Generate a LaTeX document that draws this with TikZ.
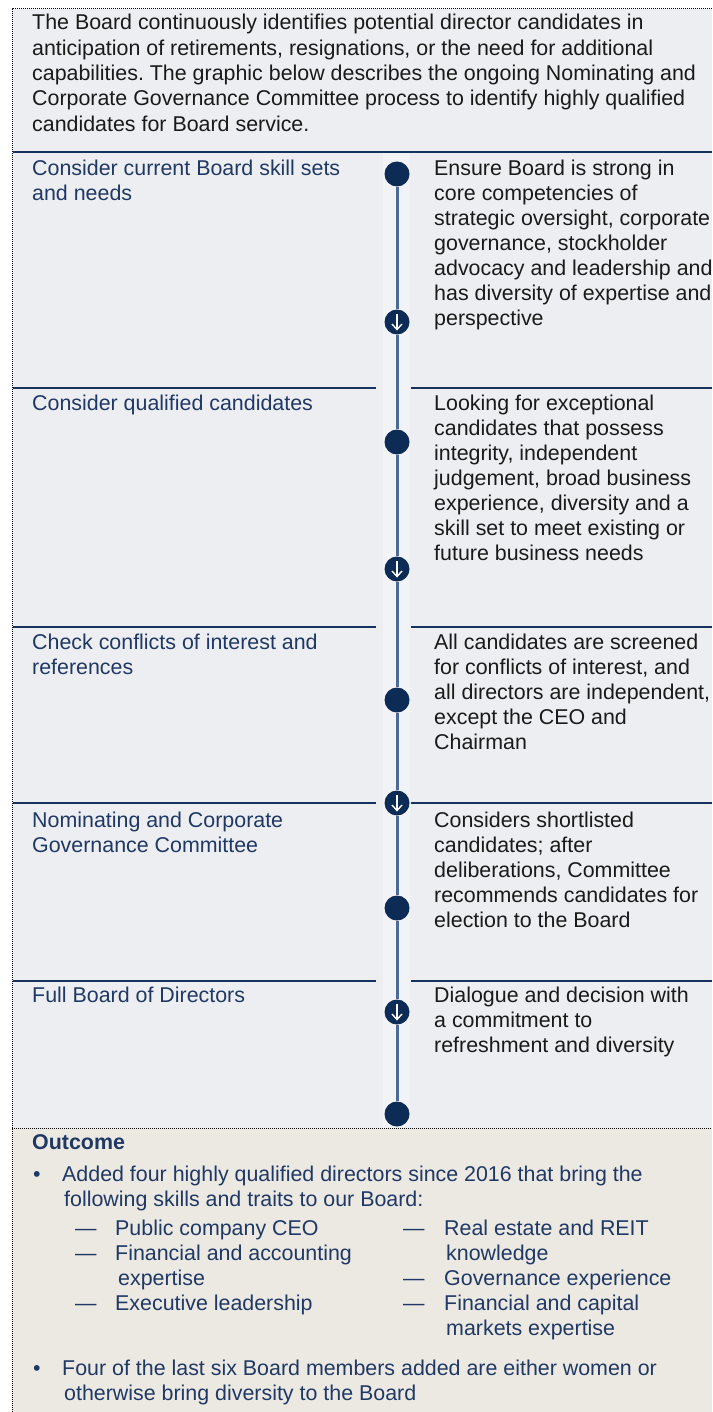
\documentclass[tikz,border=0pt]{standalone}
\usepackage{fontspec}
\setmainfont{Liberation Sans}
\frenchspacing
\definecolor{panel}{HTML}{EDEEF2}
\definecolor{band}{HTML}{F2F3F6}
\definecolor{sand}{HTML}{ECE9E3}
\definecolor{navy}{HTML}{1F3864}
\definecolor{ink}{HTML}{1A1A1A}
\definecolor{dotblue}{HTML}{0C2B55}
\definecolor{sepblue}{HTML}{17335F}
\definecolor{railblue}{HTML}{4C6C97}
\newcommand\boxfont{\fontsize{21.4}{25}\selectfont}
\newcommand\parafont{\fontsize{21.4}{25.4}\selectfont}
\begin{document}
\begin{tikzpicture}[x=1pt, y=-1pt,
    lbl/.style={anchor=north west, inner sep=0pt, align=left, text=navy, font=\boxfont},
    desc/.style={lbl, text=ink},
    dot/.style={circle, fill=dotblue, inner sep=0pt, minimum size=25pt},
    arrowdot/.style={circle, fill=dotblue, inner sep=0pt, minimum size=25pt,
      path picture={
        \draw[white, line width=1.4pt]
          ([yshift=8pt]path picture bounding box.center) --
          ([yshift=-7.5pt]path picture bounding box.center);
        \draw[white, line width=1.4pt, line join=miter]
          ([xshift=-5pt, yshift=-2pt]path picture bounding box.center) --
          ([yshift=-7.5pt]path picture bounding box.center) --
          ([xshift=5pt, yshift=-2pt]path picture bounding box.center);
      }},
    sep/.style={draw=sepblue, line width=2.5pt},
    rail/.style={draw=railblue, line width=3pt},
    border/.style={densely dotted, line width=1pt}]
  \useasboundingbox (0,0) rectangle (712,1412);
  % panels
  \fill[white] (0,0) rectangle (712,1412);
  \fill[panel] (12,9) rectangle (712,1128);
  \fill[band] (383,153) rectangle (410,1127);
  \fill[sand] (12,1128) rectangle (712,1412);
  \draw[border] (12,1412) -- (12,9) -- (712,9);
  \draw[border] (12,1128) -- (712,1128);
  % separators
  \draw[sep] (13,152) -- (712,152);
  \foreach \y in {388,627,803,981}{
    \draw[sep] (13,\y) -- (376,\y);
    \draw[sep] (411,\y) -- (712,\y);
  }
  % intro
  \node[desc, font=\parafont] (intro) at (32,11.7) {\strut The Board continuously identifies potential director candidates in\\
    anticipation of retirements, resignations, or the need for additional\\
    capabilities. The graphic below describes the ongoing Nominating and\\
    Corporate Governance Committee process to identify highly qualified\\
    candidates for Board service.};
  % steps
  \node[lbl] (l1) at (32,157.5) {\strut Consider current Board skill sets\\and needs};
  \node[desc] (r1) at (434,157.5) {\strut Ensure Board is strong in\\core competencies of\\strategic oversight, corporate\\governance, stockholder\\advocacy and leadership and\\has diversity of expertise and\\perspective};
  \node[lbl] (l2) at (32,392.5) {\strut Consider qualified candidates};
  \node[desc] (r2) at (434,392.5) {\strut Looking for exceptional\\candidates that possess\\integrity, independent\\judgement, broad business\\experience, diversity and a\\skill set to meet existing or\\future business needs};
  \node[lbl] (l3) at (32,632) {\strut Check conflicts of interest and\\references};
  \node[desc] (r3) at (434,632) {\strut All candidates are screened\\for conflicts of interest, and\\all directors are independent,\\except the CEO and\\Chairman};
  \node[lbl] (l4) at (32,810) {\strut Nominating and Corporate\\Governance Committee};
  \node[desc] (r4) at (434,810) {\strut Considers shortlisted\\candidates; after\\deliberations, Committee\\recommends candidates for\\election to the Board};
  \node[lbl] (l5) at (32,985) {\strut Full Board of Directors};
  \node[desc] (r5) at (434,985) {\strut Dialogue and decision with\\a commitment to\\refreshment and diversity};
  % timeline
  \node[dot] (d1) at (397,174) {};
  \node[arrowdot] (a1) at (397,322) {};
  \node[dot] (d2) at (397,442) {};
  \node[arrowdot] (a2) at (397,569) {};
  \node[dot] (d3) at (397,700) {};
  \node[arrowdot] (a3) at (397,803) {};
  \node[dot] (d4) at (397,908) {};
  \node[arrowdot] (a4) at (397,1012) {};
  \node[dot] (d5) at (397,1114) {};
  \begin{scope}[rail]
    \draw (d1) -- (a1);
    \draw (a1) -- (d2);
    \draw (d2) -- (a2);
    \draw (a2) -- (d3);
    \draw (d3) -- (a3);
    \draw (a3) -- (d4);
    \draw (d4) -- (a4);
    \draw (a4) -- (d5);
  \end{scope}
  % outcome
  \node[lbl, font=\boxfont\bfseries] (out) at (32,1131.5) {\strut Outcome};
  \node[lbl] (b1) at (33,1163.5) {\strut •};
  \node[lbl] (o1) at (62,1163.5) {\strut Added four highly qualified directors since 2016 that bring the\\
    \hspace*{2pt}following skills and traits to our Board:};
  \node[lbl] (m1) at (75,1217.5) {\strut —};
  \node[lbl] (s1) at (115,1217.5) {\strut Public company CEO};
  \node[lbl] (m2) at (75,1242.5) {\strut —};
  \node[lbl] (s2) at (115,1242.5) {\strut Financial and accounting\\\hspace*{3pt}expertise};
  \node[lbl] (m3) at (75,1292.5) {\strut —};
  \node[lbl] (s3) at (115,1292.5) {\strut Executive leadership};
  \node[lbl] (m4) at (403,1217.5) {\strut —};
  \node[lbl] (s4) at (444,1217.5) {\strut Real estate and REIT\\\hspace*{2pt}knowledge};
  \node[lbl] (m5) at (403,1267.5) {\strut —};
  \node[lbl] (s5) at (444,1267.5) {\strut Governance experience};
  \node[lbl] (m6) at (403,1292.5) {\strut —};
  \node[lbl] (s6) at (444,1292.5) {\strut Financial and capital\\\hspace*{2pt}markets expertise};
  \node[lbl] (b2) at (33,1357.5) {\strut •};
  \node[lbl] (o2) at (62,1357.5) {\strut Four of the last six Board members added are either women or\\
    \hspace*{2pt}otherwise bring diversity to the Board};
\end{tikzpicture}
\end{document}
